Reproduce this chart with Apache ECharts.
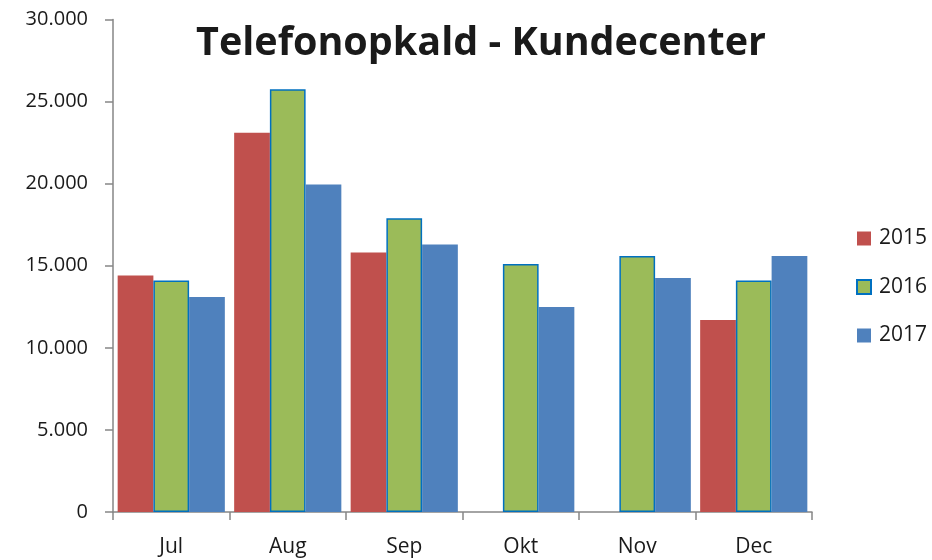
<!DOCTYPE html>
<html><head><meta charset="utf-8">
<script src="https://cdn.jsdelivr.net/npm/echarts@6/dist/echarts.min.js"></script>
<style>html,body{margin:0;padding:0;background:#fff}#c{width:932px;height:560px}</style>
</head><body><div id="c"></div>
<script>
const categories = ['Jul','Aug','Sep','Okt','Nov','Dec'];
const s2015 = [14400, 23100, 15800, null, null, 11700];
const s2016 = [14100, 25750, 17900, 15100, 15600, 14100];
const s2017 = [13100, 19950, 16300, 12480, 14250, 15600];
const seriesNames = ['2015','2016','2017'];

const font = '"Open Sans", "Noto Sans", sans-serif';
const chart = echarts.init(document.getElementById('c'));
chart.setOption({
  animation: false,
  title: {
    text: 'Telefonopkald - Kundecenter',
    left: 476, top: 19, textAlign: 'center',
    textStyle: { fontFamily: font, fontWeight: 'bold', fontSize: 39.5, color: '#1a1a1a' }
  },
  legend: {
    orient: 'vertical', left: 851, top: 223,
    icon: 'rect',
    itemWidth: 14, itemHeight: 14, itemGap: 27.5,
    textStyle: { fontFamily: font, fontSize: 21, lineHeight: 20, color: '#1a1a1a', padding: [0,0,0,3] },
    data: seriesNames
  },
  grid: { left: 113, right: 120, top: 19.5, bottom: 48, containLabel: false },
  xAxis: {
    type: 'category', data: categories,
    axisLine: { lineStyle: { color: '#868686', width: 1.5 } },
    axisTick: { show: true, length: 8, lineStyle: { color: '#868686', width: 1.5 } },
    axisLabel: { fontFamily: font, fontSize: 21, color: '#1a1a1a', margin: 25 }
  },
  yAxis: {
    type: 'value', min: 0, max: 30000, interval: 5000,
    splitLine: { show: false },
    axisLine: { show: true, lineStyle: { color: '#868686', width: 1.5 } },
    axisTick: { show: true, length: 8, lineStyle: { color: '#868686', width: 1.5 } },
    axisLabel: { fontFamily: font, fontSize: 20, color: '#1a1a1a', margin: 25,
      formatter: v => v === 0 ? '0' : String(v).replace(/(\d)(\d{3})$/, '$1.$2') }
  },
  series: [
    { name: seriesNames[0], type: 'bar', data: s2015, barGap: '0%', barCategoryGap: '8%',
      itemStyle: { color: '#C0504D' } },
    { name: seriesNames[1], type: 'bar', data: s2016, barGap: '0%', barCategoryGap: '8%',
      itemStyle: { color: '#9BBB59', borderColor: '#0070C0', borderWidth: 1.5 } },
    { name: seriesNames[2], type: 'bar', data: s2017, barGap: '0%', barCategoryGap: '8%',
      itemStyle: { color: '#4F81BD' } }
  ]
});
</script></body></html>
